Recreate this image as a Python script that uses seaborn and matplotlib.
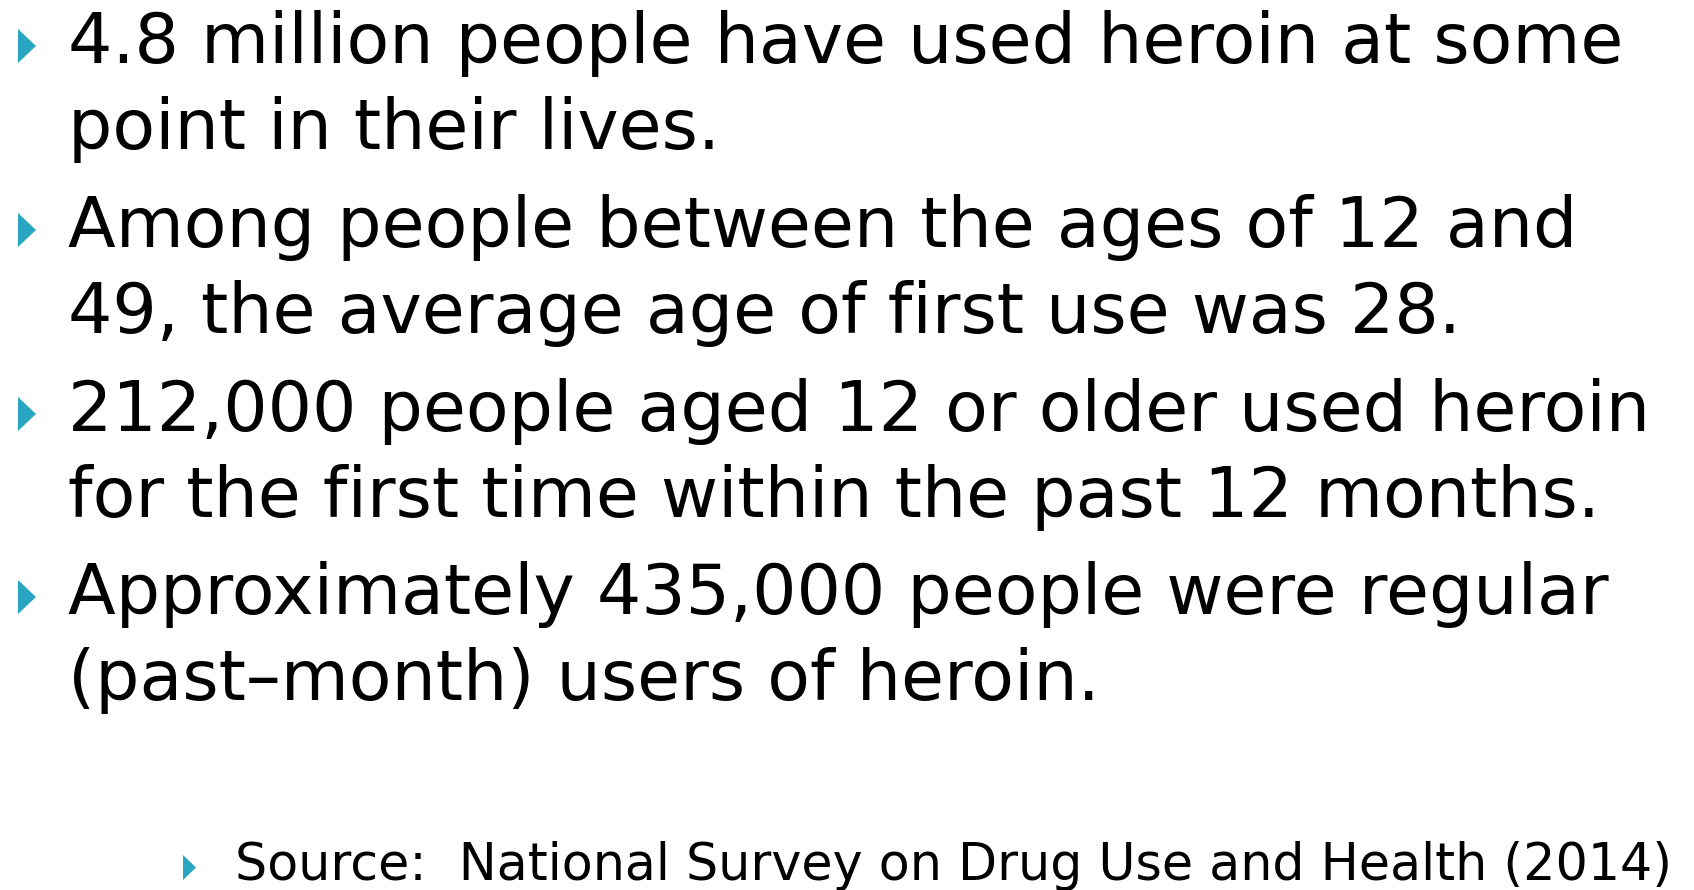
import matplotlib
matplotlib.use('Agg')
import matplotlib.pyplot as plt
import seaborn as sns

# slide content
bullet_lines = [
    ['4.8 million people have used heroin at some', 'point in their lives.'],
    ['Among people between the ages of 12 and', '49, the average age of first use was 28.'],
    ['212,000 people aged 12 or older used heroin', 'for the first time within the past 12 months.'],
    ['Approximately 435,000 people were regular', '(past\u2013month) users of heroin.'],
]
source_text = 'Source:  National Survey on Drug Use and Health (2014)'

# layout in pixels
W, H = 1694, 890
first_baselines = [63, 247, 431, 614]
line_step = 86
text_x = 68
bullet_x = 18
source_x = 235
source_bullet_x = 183
source_baseline = 880
bullet_color = '#2AA5C1'

sns.set_theme(style='white')
plt.rcParams['font.family'] = ['DejaVu Sans']

fig = plt.figure(figsize=(W / 100, H / 100), dpi=100)
ax = fig.add_axes([0, 0, 1, 1])
ax.set_xlim(0, W)
ax.set_ylim(H, 0)
ax.axis('off')
renderer = fig.canvas.get_renderer()


def fit_size(text, target_w, size=40):
    t = ax.text(0, 0, text, fontsize=size)
    w = t.get_window_extent(renderer).width
    t.remove()
    return size * target_w / w


main_size = fit_size(bullet_lines[0][0], 1620 - text_x)
src_size = fit_size(source_text, 1670 - source_x)


def draw_bullet(x, baseline, h, w):
    ax.fill([x, x, x + w], [baseline, baseline - h, baseline - h / 2],
            color=bullet_color, lw=0)


for lines, y0 in zip(bullet_lines, first_baselines):
    draw_bullet(bullet_x, y0, 34, 18)
    for k, line in enumerate(lines):
        ax.text(text_x, y0 + k * line_step, line, fontsize=main_size,
                color='black', va='baseline', ha='left')

draw_bullet(source_bullet_x, source_baseline, 25, 13)
ax.text(source_x, source_baseline, source_text, fontsize=src_size,
        color='black', va='baseline', ha='left')

fig.savefig('out.png', dpi=100, facecolor='white')
